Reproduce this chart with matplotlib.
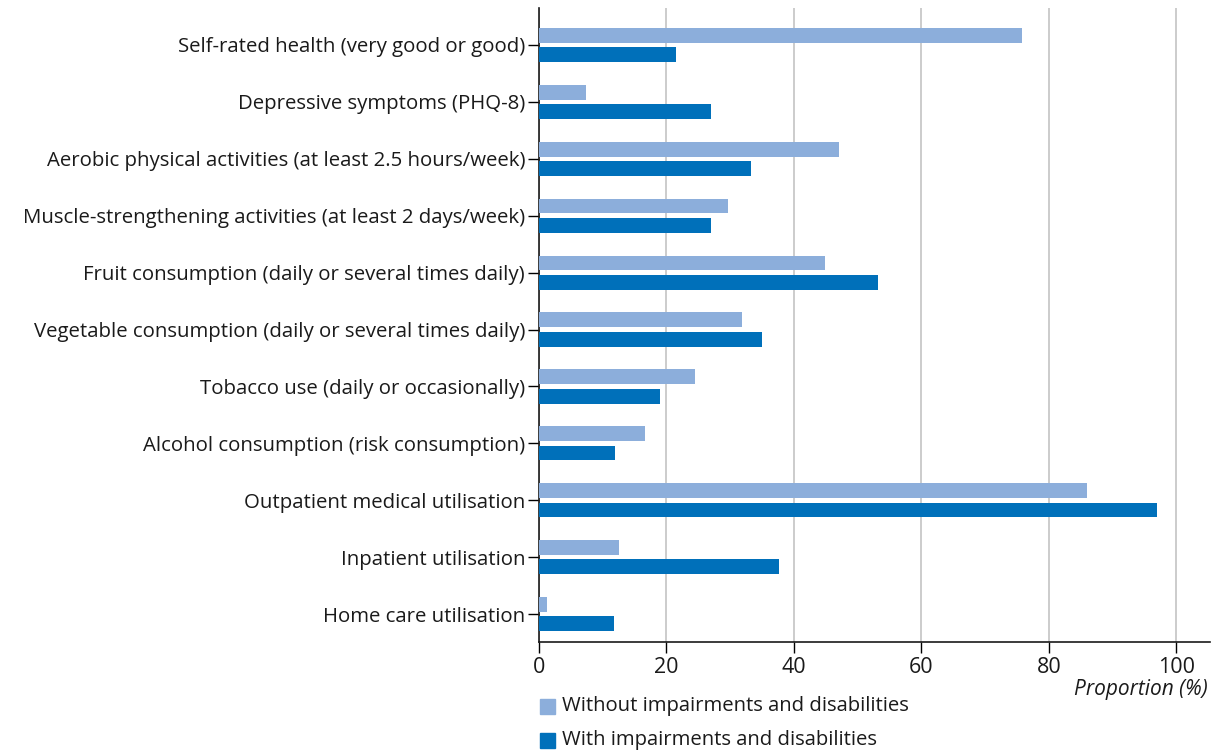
import matplotlib
matplotlib.use("Agg")
import matplotlib.pyplot as plt
import numpy as np
from matplotlib.patches import Rectangle

plt.rcParams['font.family'] = ['Open Sans', 'DejaVu Sans']

categories = [
    "Self-rated health (very good or good)",
    "Depressive symptoms (PHQ-8)",
    "Aerobic physical activities (at least 2.5 hours/week)",
    "Muscle-strengthening activities (at least 2 days/week)",
    "Fruit consumption (daily or several times daily)",
    "Vegetable consumption (daily or several times daily)",
    "Tobacco use (daily or occasionally)",
    "Alcohol consumption (risk consumption)",
    "Outpatient medical utilisation",
    "Inpatient utilisation",
    "Home care utilisation",
]
without_vals = [75.8, 7.4, 47.1, 29.7, 44.9, 31.9, 24.5, 16.6, 86.0, 12.6, 1.3]
with_vals = [21.5, 27.0, 33.3, 27.0, 53.2, 35.0, 19.0, 11.9, 97.0, 37.7, 11.8]
series_names = ["Without impairments and disabilities", "With impairments and disabilities"]
xticks = [0, 20, 40, 60, 80, 100]

c_light = "#8CAEDB"
c_dark = "#0070BA"

fig = plt.figure(figsize=(12.19, 7.52), dpi=100)
ax = fig.add_axes([539/1219, 1-642/752, (1210-539)/1219, (642-8)/752])

y = np.arange(len(categories))
h = 0.26
off = 0.17
ax.barh(y - off, without_vals, height=h, color=c_light, zorder=3)
ax.barh(y + off, with_vals, height=h, color=c_dark, zorder=3)

ax.set_xlim(0, 105.3)
ax.set_ylim(10.49, -0.65)
ax.set_yticks(y)
ax.set_yticklabels(categories, fontsize=14.7, color="#1a1a1a")
ax.set_xticks(xticks)
ax.set_xticklabels([str(t) for t in xticks], fontsize=15.5, color="#1a1a1a")
ax.tick_params(axis='y', length=8, width=1, pad=2)
ax.tick_params(axis='x', length=8, width=1, pad=3)
ax.grid(axis='x', color="#c8c8c8", linewidth=1.3, zorder=0)
for s in ['top', 'right']:
    ax.spines[s].set_visible(False)
for s in ['left', 'bottom']:
    ax.spines[s].set_linewidth(1.2)
    ax.spines[s].set_color("#1a1a1a")

fig.text(1208/1219, 1-690/752, "Proportion (%)", ha='right', va='center', fontsize=15, style='italic', color="#1a1a1a")

for i, (name, col) in enumerate(zip(series_names, [c_light, c_dark])):
    yc = 706 + i*34
    fig.patches.append(Rectangle((540/1219, 1-(yc+7.5)/752), 15/1219, 15/752, transform=fig.transFigure, color=col, figure=fig))
    fig.text(562/1219, 1-yc/752, name, ha='left', va='center', fontsize=14.6, color="#1a1a1a")

fig.savefig("out.png", dpi=100)
